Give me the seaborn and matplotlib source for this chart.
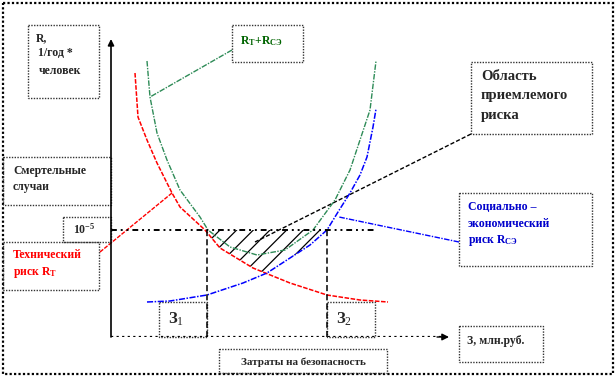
import numpy as np
import matplotlib
matplotlib.use("Agg")
import matplotlib.pyplot as plt
import seaborn as sns
from matplotlib.patches import Rectangle

# ---------------- data (schematic units: cost along x, risk along y) -------------
tech_cost = [2.4, 2.7, 3.6, 4.6, 6.1, 6.9, 9.4, 10.9, 14.2, 17.9, 21.6, 24.9, 27.7]
tech_risk = [26.4, 22.0, 19.7, 17.4, 14.4, 13.0, 10.7, 8.9, 6.9, 5.4, 4.2, 3.7, 3.5]

sum_cost = [3.6, 3.9, 4.6, 5.6, 6.9, 8.9, 9.7, 11.9, 14.6, 17.4, 20.2, 22.4, 23.9, 24.9, 25.9, 26.5]
sum_risk = [27.6, 24.0, 20.4, 17.7, 14.7, 12.0, 10.7, 9.0, 8.2, 8.7, 10.7, 13.7, 16.7, 19.7, 22.7, 27.6]

soc_cost = [3.6, 5.9, 9.6, 13.2, 15.6, 17.9, 19.9, 21.6, 22.7, 23.9, 24.9, 25.6, 26.2, 26.5]
soc_risk = [3.5, 3.6, 4.2, 5.4, 6.4, 7.9, 9.2, 10.7, 12.5, 14.4, 16.2, 18.0, 21.0, 22.8]

acceptable_level = 10.7          # 10^-5 line
level_extent = [0.0, 26.4]
z1, z2 = 9.6, 21.6               # З1, З2

# ---------------- style --------------------------------------------------------
sns.set_style("white")
plt.rcParams["font.family"] = ["Liberation Serif", "DejaVu Serif"]
plt.rcParams["mathtext.fontset"] = "custom"
plt.rcParams["mathtext.rm"] = "Liberation Serif"
plt.rcParams["mathtext.bf"] = "Liberation Serif:bold"
plt.rcParams["mathtext.it"] = "Liberation Serif:italic"
plt.rcParams["hatch.linewidth"] = 0.9

RED = "#ff0000"
GREEN = "#2e8b57"
BLUE = "#0000ff"
GREENTXT = "#006400"
BLUETXT = "#0000cc"

fig = plt.figure(figsize=(6.16, 3.77), dpi=100)
fig.patch.set_facecolor("white")

# layout axes in pixel coordinates
lay = fig.add_axes([0, 0, 1, 1])
lay.set_xlim(0, 616)
lay.set_ylim(377, 0)
lay.axis("off")

# data axes
ax = fig.add_axes([111 / 616, 40 / 377, 500 / 616, 300 / 377])
ax.set_xlim(0, 50)
ax.set_ylim(0, 30)
ax.axis("off")
ax.patch.set_alpha(0)

# hatched acceptable-risk region
xs = np.linspace(z1, z2, 300)
lower = np.maximum(np.interp(xs, tech_cost, tech_risk), np.interp(xs, soc_cost, soc_risk))
ax.fill_between(xs, lower, acceptable_level, where=lower < acceptable_level,
                facecolor="none", edgecolor="black", linewidth=0, hatch="//")

# curves
sns.lineplot(x=tech_cost, y=tech_risk, ax=ax, sort=False, estimator=None,
             color=RED, linewidth=1.1, linestyle=(0, (3, 1)))
sns.lineplot(x=sum_cost, y=sum_risk, ax=ax, sort=False, estimator=None,
             color=GREEN, linewidth=1.0, linestyle=(0, (4, 1, 1, 1)))
sns.lineplot(x=soc_cost, y=soc_risk, ax=ax, sort=False, estimator=None,
             color=BLUE, linewidth=1.1, linestyle=(0, (4, 1, 1, 1)))

# 10^-5 level and З1/З2 verticals
ax.plot(level_extent, [acceptable_level, acceptable_level], color="black",
        linewidth=1.4, linestyle=(0, (3, 2, 1, 2, 1, 2)))
for z in (z1, z2):
    ax.plot([z, z], [0, acceptable_level], color="black", linewidth=1.1,
            linestyle=(0, (4, 2)))

# axes arrows
ax.annotate("", xy=(0, 29.8), xytext=(0, 0),
            arrowprops=dict(arrowstyle="-|>", color="black", lw=1.2,
                            mutation_scale=9, shrinkA=0, shrinkB=0))
ax.plot([0, 33.0], [0, 0], color="black", linewidth=1.6, linestyle=(0, (1, 1.5)))
ax.annotate("", xy=(33.8, 0), xytext=(32.6, 0),
            arrowprops=dict(arrowstyle="-|>", color="black", lw=1.0,
                            mutation_scale=10, shrinkA=0, shrinkB=0))

# ---------------- boxes & labels (pixel coords) --------------------------------
def box(x0, y0, x1, y1, ls=(0, (1, 1)), color="#333333", lw=1.0):
    lay.add_patch(Rectangle((x0, y0), x1 - x0, y1 - y0, fill=False,
                            edgecolor=color, linewidth=lw, linestyle=ls))

# outer frame
box(3, 3, 613, 374, ls=(0, (1, 1)), color="black", lw=1.6)

box(28, 25, 99, 98)
box(232, 25, 303, 62)
box(3, 157, 111, 205)
box(63, 217, 111, 242)
box(3, 242, 99, 290)
box(471, 62, 592, 134)
box(459, 193, 592, 266)
box(159, 302, 207, 337)
box(327, 302, 375, 337)
box(219, 349, 387, 373)
box(459, 326, 543, 362)

# leader lines
lay.plot([100, 172], [252, 193], color=RED, lw=1.0, linestyle=(0, (3, 1)))
lay.plot([232, 150], [50, 97], color=GREEN, lw=1.0, linestyle=(0, (4, 1, 1, 1)))
lay.plot([459, 339], [242, 217], color=BLUE, lw=1.0, linestyle=(0, (4, 1, 1, 1)))
lay.plot([471, 255], [134, 242], color="black", lw=1.0, linestyle=(0, (3, 1.5)))

kw = dict(fontweight="bold", va="center", ha="left")
fs = 8.5
lay.text(36, 38, "R,", fontsize=fs, **kw)
lay.text(38, 53, "1/год *", fontsize=fs, **kw)
lay.text(39, 71, "человек", fontsize=fs, **kw)

lay.text(240, 41, r"R$_{\mathbf{T}}$+R$_{\mathbf{СЭ}}$", fontsize=fs, color=GREENTXT, **kw)

lay.text(13, 171, "Смертельные", fontsize=fs, **kw)
lay.text(13, 187, "случаи", fontsize=fs, **kw)

lay.text(73, 229, r"10$^{\mathbf{-5}}$", fontsize=fs, **kw)

lay.text(13, 255, "Технический", fontsize=fs, color=RED, **kw)
lay.text(13, 272, r"риск R$_{\mathbf{T}}$", fontsize=fs, color=RED, **kw)

lay.text(481, 76, "Область", fontsize=10.5, **kw)
lay.text(481, 96, "приемлемого", fontsize=10.5, **kw)
lay.text(481, 116, "риска", fontsize=10.5, **kw)

lay.text(468, 207, "Социально –", fontsize=fs, color=BLUETXT, **kw)
lay.text(468, 224, "экономический", fontsize=fs, color=BLUETXT, **kw)
lay.text(468, 241, r"риск R$_{\mathbf{СЭ}}$", fontsize=fs, color=BLUETXT, **kw)

lay.text(168, 319, r"З$_{\mathrm{1}}$", fontsize=12, **kw)
lay.text(336, 319, r"З$_{\mathrm{2}}$", fontsize=12, **kw)

lay.text(303, 362, "Затраты на безопасность", fontsize=8, fontweight="bold",
         va="center", ha="center")
lay.text(467, 341, "З, млн.руб.", fontsize=8.5, **kw)

fig.savefig("out.png", dpi=100, facecolor="white")
